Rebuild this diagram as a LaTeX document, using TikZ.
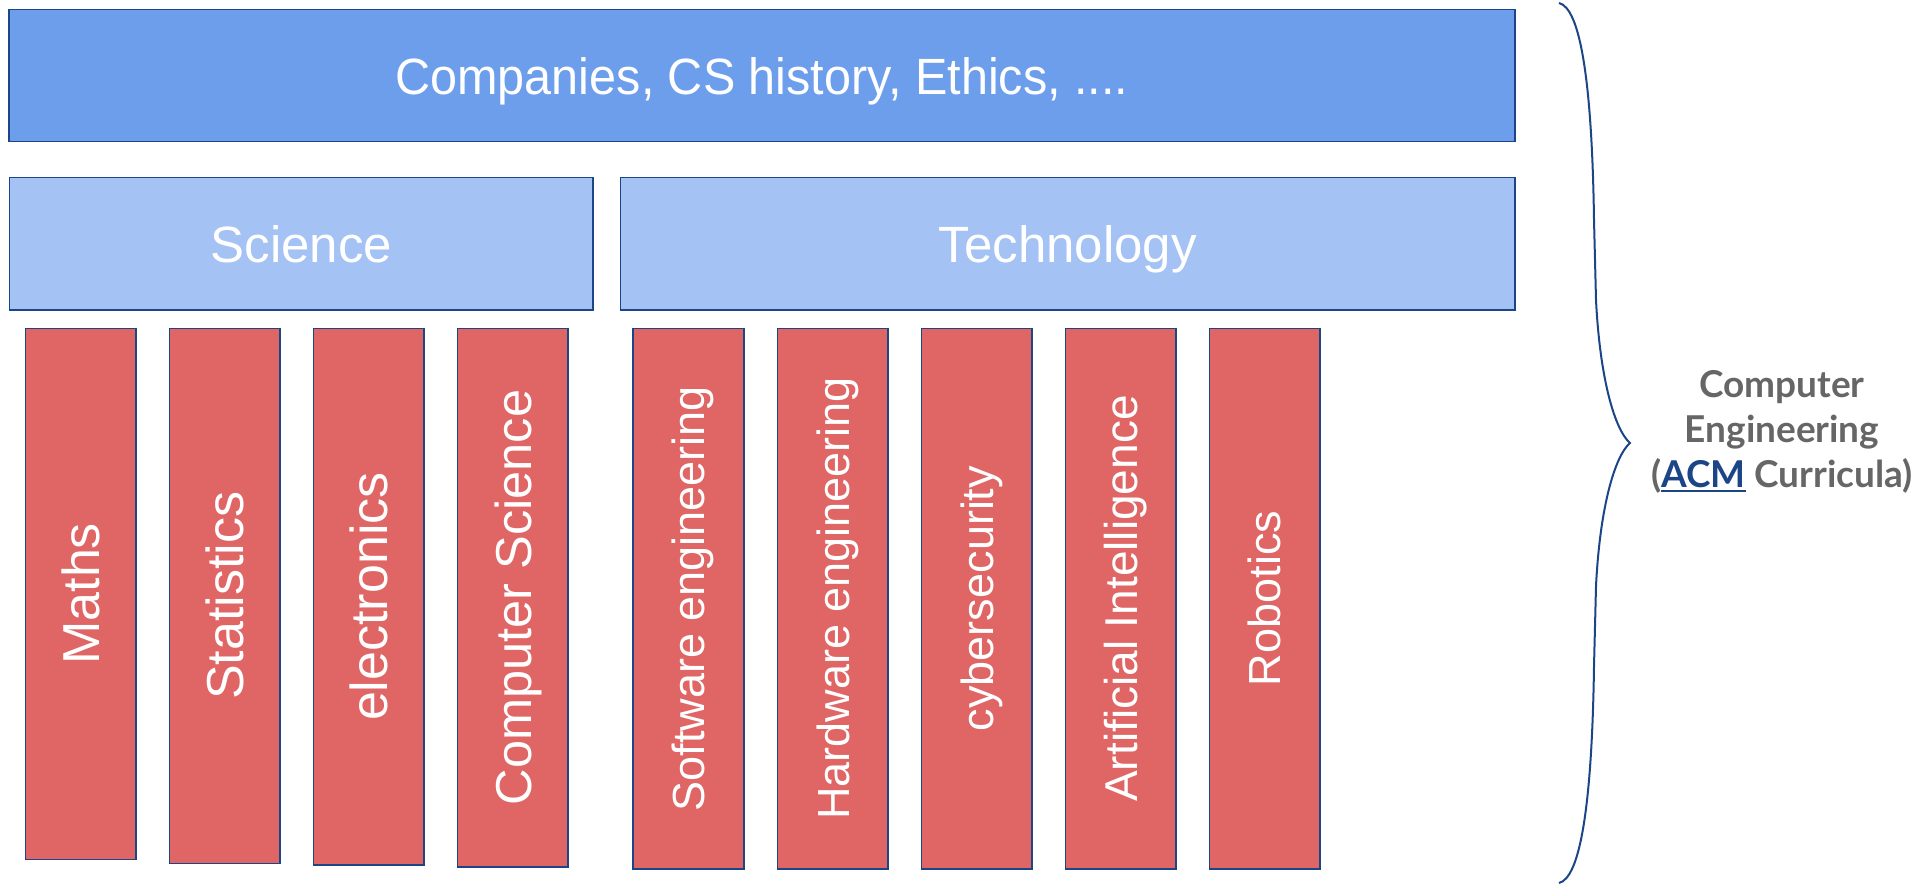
\documentclass[tikz,border=0pt]{standalone}
\usepackage{fontspec}
\setmainfont{Liberation Sans}
\newfontfamily\latofont{Lato}
\definecolor{topfill}{HTML}{6D9EEB}
\definecolor{midfill}{HTML}{A4C2F4}
\definecolor{subjfill}{HTML}{E06666}
\definecolor{edgecol}{HTML}{1C4587}
\definecolor{labelgrey}{HTML}{666666}
\newcommand{\acmlink}[1]{\setbox0\hbox{#1}\rlap{\color{edgecol}\rule[-4.5pt]{\wd0}{2.6pt}}\box0}
\begin{document}
\begin{tikzpicture}[x=1pt,y=-1pt,
  boxbase/.style={draw=edgecol, line width=1.6pt, inner sep=0pt, text=white, text depth=0pt},
  topbox/.style={boxbase, fill=topfill, font=\fontsize{51}{60}\selectfont},
  midbox/.style={boxbase, fill=midfill, minimum height=132.3pt, font=\fontsize{51}{60}\selectfont},
  subjbox/.style={boxbase, fill=subjfill, rotate=90, minimum height=110.5pt, font=\fontsize{52}{60}\selectfont},
  techsubj/.style={subjbox, font=\fontsize{45}{54}\selectfont},
  bracestyle/.style={draw=edgecol, line width=2pt},
  labelstyle/.style={text=labelgrey, align=center, font=\latofont\bfseries\fontsize{37}{45}\selectfont}
]
\useasboundingbox (0,0) rectangle (1930,885);

\node[topbox, minimum width=1506pt, minimum height=132.2pt] (top) at (762,75.6) {\scalebox{0.952}[1]{Companies, CS history, Ethics, ....}};
\node[midbox, minimum width=583.5pt] (science) at (301.25,243.85) {Science};
\node[midbox, minimum width=894.5pt] (tech) at (1067.75,243.85) {Technology};

\node[subjbox, minimum width=531pt]   (maths) at (80.8,593.8) {Maths};
\node[subjbox, minimum width=535pt]   (stats) at (224.8,595.8) {Statistics};
\node[subjbox, minimum width=536.7pt] (elec)  at (368.6,596.65) {electronics};
\node[subjbox, minimum width=538.4pt, font=\fontsize{50.5}{60}\selectfont] (cs) at (512.75,597.5) {Computer Science};
\node[techsubj, minimum width=540.4pt] (se)    at (688.5,598.5) {Software engineering};
\node[techsubj, minimum width=540.4pt] (he)    at (832.75,598.5) {Hardware engineering};
\node[techsubj, minimum width=540.4pt] (cyber) at (976.7,598.5) {cybersecurity};
\node[techsubj, minimum width=540.4pt, font=\fontsize{46}{54}\selectfont] (ai) at (1120.65,598.5) {Artificial Intelligence};
\node[techsubj, minimum width=540.4pt] (robo)  at (1264.6,598.5) {Robotics};

\draw[bracestyle] (1559,3) .. controls (1580,8) and (1592,80) .. (1594,220)
  -- (1596,300) .. controls (1600,380) and (1615,430) .. (1630,443)
  .. controls (1615,456) and (1600,506) .. (1596,586)
  -- (1594,666) .. controls (1592,806) and (1580,878) .. (1559,883);

\node[labelstyle] (label) at (1782,432) {Computer\\Engineering\\(\textcolor{edgecol}{\acmlink{ACM}}~Curricula)};
\end{tikzpicture}
\end{document}
